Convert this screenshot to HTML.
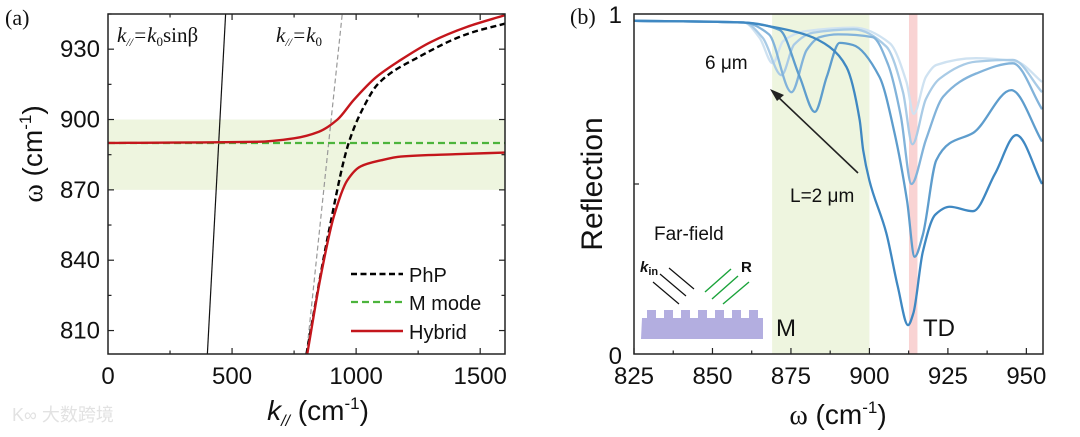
<!DOCTYPE html>
<html><head><meta charset="utf-8">
<style>
html,body{margin:0;padding:0;background:#fff;}
svg{display:block;font-family:"Liberation Sans","Noto Sans CJK SC",sans-serif;}
</style></head>
<body>
<svg id="fig" width="1080" height="437" viewBox="0 0 1080 437">
  <g id="pa"></g>
  <g id="pb"></g>
</svg>
<script>
// ---------- Panel (a) data ----------
const aUpperK = [0, 600, 750, 850, 925, 990, 1080, 1178, 1300, 1447, 1600];
const aUpperW = [890, 890.5, 892, 894.8, 900, 908.3, 918, 925.3, 933, 939.5, 944.5];
const aLowerK = [803, 857, 910, 964, 1018, 1100, 1180, 1400, 1600];
const aLowerW = [800, 833, 858.6, 874, 880, 882.6, 884.2, 885.2, 885.9];
const aPhpK = [800, 815, 889, 970, 1024, 1091, 1253, 1454, 1604];
const aPhpW = [800, 809, 851.7, 890, 904, 915.5, 926.7, 936.7, 941];
const aMmode = 890;
const aBand = [870, 900];
const aLightLineK = [400.5, 474];
const aLightLineW = [800, 945];
const aK0K = [800, 944];
const aK0W = [800, 945];
const aXTicks = [0, 500, 1000, 1500];
const aYTicks = [810, 840, 870, 900, 930];

// ---------- Panel (b) data ----------
const bBand = [869, 900];
const bTD = [912.6, 915.3];
const bXTicks = [825, 850, 875, 900, 925, 950];
const bL2x = [825, 860, 869.2, 880, 887.3, 892.7, 896.9, 898, 900, 905.4, 909, 912.3, 914, 917, 921, 925.6, 933, 940, 946.8, 955];
const bL2y = [0.98, 0.975, 0.962, 0.938, 0.903, 0.844, 0.688, 0.6, 0.51, 0.355, 0.2, 0.085, 0.12, 0.3, 0.41, 0.433, 0.42, 0.53, 0.644, 0.5];
const bL3x = [825, 860, 871.4, 877.8, 882.6, 886.4, 890.5, 894.7, 903.2, 908, 912, 914.4, 917, 921.3, 925.6, 933, 945.2, 955];
const bL3y = [0.98, 0.975, 0.953, 0.815, 0.712, 0.815, 0.915, 0.909, 0.815, 0.65, 0.45, 0.286, 0.35, 0.57, 0.62, 0.65, 0.776, 0.625];
const bL4x = [825, 860, 868, 875.2, 880, 884.2, 890, 901, 906, 910, 913.4, 918, 923.5, 934, 945.7, 955];
const bL4y = [0.98, 0.975, 0.94, 0.77, 0.894, 0.932, 0.94, 0.932, 0.85, 0.7, 0.5, 0.63, 0.757, 0.825, 0.855, 0.72];
const bL5x = [825, 860, 866, 872, 876, 882, 895, 905.4, 910.7, 913.7, 918, 922.4, 934, 945.7, 955];
const bL5y = [0.98, 0.975, 0.93, 0.82, 0.91, 0.945, 0.955, 0.904, 0.77, 0.617, 0.75, 0.81, 0.86, 0.865, 0.77];
const bL6x = [825, 860, 865, 869.2, 872.5, 880, 895, 906.5, 911.8, 914.1, 918, 921.3, 934, 946.8, 955];
const bL6y = [0.98, 0.975, 0.93, 0.855, 0.92, 0.95, 0.96, 0.914, 0.8, 0.706, 0.815, 0.85, 0.87, 0.86, 0.8];

const NS = "http://www.w3.org/2000/svg";
function mk(parent, tag, attrs, text) {
  const e = document.createElementNS(NS, tag);
  for (const k in attrs) e.setAttribute(k, attrs[k]);
  if (text !== undefined) e.textContent = text;
  parent.appendChild(e);
  return e;
}
// monotone cubic (Fritsch-Carlson) in screen coords, x increasing
function smoothPath(pts) {
  const n = pts.length;
  const dx = [], m = [], t = [];
  for (let i = 0; i < n - 1; i++) { dx[i] = pts[i + 1][0] - pts[i][0]; m[i] = (pts[i + 1][1] - pts[i][1]) / dx[i]; }
  t[0] = m[0]; t[n - 1] = m[n - 2];
  for (let i = 1; i < n - 1; i++) {
    if (m[i - 1] * m[i] <= 0) t[i] = 0;
    else { const w1 = 2 * dx[i] + dx[i - 1], w2 = dx[i] + 2 * dx[i - 1]; t[i] = (w1 + w2) / (w1 / m[i - 1] + w2 / m[i]); }
  }
  let d = "M" + pts[0][0].toFixed(2) + "," + pts[0][1].toFixed(2);
  for (let i = 0; i < n - 1; i++) {
    const h = dx[i] / 3;
    d += " C" + (pts[i][0] + h).toFixed(2) + "," + (pts[i][1] + t[i] * h).toFixed(2) + " " +
      (pts[i + 1][0] - h).toFixed(2) + "," + (pts[i + 1][1] - t[i + 1] * h).toFixed(2) + " " +
      pts[i + 1][0].toFixed(2) + "," + pts[i + 1][1].toFixed(2);
  }
  return d;
}

// ===== Panel A =====
(function () {
  const g = document.getElementById('pa');
  const L = 108, R = 505, T = 14, B = 354;
  const xmin = 0, xmax = 1600, ymin = 800, ymax = 945;
  const X = v => L + (v - xmin) / (xmax - xmin) * (R - L);
  const Y = v => B - (v - ymin) / (ymax - ymin) * (B - T);
  const clip = mk(g, 'clipPath', { id: 'clipA' });
  mk(clip, 'rect', { x: L, y: T, width: R - L, height: B - T });
  const band = mk(g, 'rect', { x: L, y: Y(aBand[1]), width: R - L, height: Y(aBand[0]) - Y(aBand[1]), fill: '#eef5df' });
  
  
  const cg = mk(g, 'g', { 'clip-path': 'url(#clipA)' });
  const ll = mk(cg, 'line', { x1: X(aLightLineK[0]), y1: Y(aLightLineW[0]), x2: X(aLightLineK[1]), y2: Y(aLightLineW[1]), stroke: '#111', 'stroke-width': 1.2 });
  
  
  const k0 = mk(cg, 'line', { x1: X(aK0K[0]), y1: Y(aK0W[0]), x2: X(aK0K[1]), y2: Y(aK0W[1]), stroke: '#999', 'stroke-width': 1.2, 'stroke-dasharray': '5,3' });
  
  
  const mm = mk(cg, 'line', { x1: L, y1: Y(aMmode), x2: R, y2: Y(aMmode), stroke: '#4cb43c', 'stroke-width': 2.2, 'stroke-dasharray': '7,4' });
  
  
  const php = mk(cg, 'path', { d: smoothPath(aPhpK.map((k, i) => [X(k), Y(aPhpW[i])])), fill: 'none', stroke: '#000', 'stroke-width': 2.4, 'stroke-dasharray': '6,3.5' });
  
  
  const hu = mk(cg, 'path', { d: smoothPath(aUpperK.map((k, i) => [X(k), Y(aUpperW[i])])), fill: 'none', stroke: '#c4161c', 'stroke-width': 2.4 });
  
  
  const hl = mk(cg, 'path', { d: smoothPath(aLowerK.map((k, i) => [X(k), Y(aLowerW[i])])), fill: 'none', stroke: '#c4161c', 'stroke-width': 2.4 });
  
  
  const frame = mk(g, 'rect', { x: L, y: T, width: R - L, height: B - T, fill: 'none', stroke: '#222', 'stroke-width': 1.5 });
  
  
  for (let v = 250; v < 1600; v += 250) {
    mk(g, 'line', { x1: X(v), y1: B, x2: X(v), y2: B - (v % 500 === 0 ? 6 : 3.5), stroke: '#222', 'stroke-width': 1.2 });
    mk(g, 'line', { x1: X(v), y1: T, x2: X(v), y2: T + (v % 500 === 0 ? 6 : 3.5), stroke: '#222', 'stroke-width': 1.2 });
  }
  aXTicks.forEach(v => {
    const t = mk(g, 'text', { x: X(v), y: 384, 'font-size': 24, 'text-anchor': 'middle', fill: '#111' }, String(v));
    
    
  });
  for (let v = 810; v <= 945; v += 15) {
    const maj = (v - 810) % 30 === 0;
    mk(g, 'line', { x1: L, y1: Y(v), x2: L + (maj ? 6 : 3.5), y2: Y(v), stroke: '#222', 'stroke-width': 1.2 });
    mk(g, 'line', { x1: R, y1: Y(v), x2: R - (maj ? 6 : 3.5), y2: Y(v), stroke: '#222', 'stroke-width': 1.2 });
  }
  aYTicks.forEach(v => {
    const t = mk(g, 'text', { x: 100, y: Y(v) + 8, 'font-size': 24, 'text-anchor': 'end', fill: '#111' }, String(v));
    
    
  });
})();

// ===== Panel B =====
(function () {
  const g = document.getElementById('pb');
  const L = 634, R = 1043, T = 14, B = 354;
  const xmin = 825, xmax = 955.3, ymin = 0, ymax = 1;
  const X = v => L + (v - xmin) / (xmax - xmin) * (R - L);
  const Y = v => B - (v - ymin) / (ymax - ymin) * (B - T);
  const clip = mk(g, 'clipPath', { id: 'clipB' });
  mk(clip, 'rect', { x: L, y: T, width: R - L, height: B - T });
  const band = mk(g, 'rect', { x: X(bBand[0]), y: T, width: X(bBand[1]) - X(bBand[0]), height: B - T, fill: '#eef5df' });
  
  
  const td = mk(g, 'rect', { x: X(bTD[0]), y: T, width: X(bTD[1]) - X(bTD[0]), height: B - T, fill: '#f9d3d3' });
  
  
  const cg = mk(g, 'g', { 'clip-path': 'url(#clipB)' });
  const series = [
    [bL6x, bL6y, '#cfe2f1', 'curve-l6'],
    [bL5x, bL5y, '#a9cbe6', 'curve-l5'],
    [bL4x, bL4y, '#82b3da', 'curve-l4'],
    [bL3x, bL3y, '#5e9dcd', 'curve-l3'],
    [bL2x, bL2y, '#3f88c2', 'curve-l2'],
  ];
  series.forEach(s => {
    const p = mk(cg, 'path', { d: smoothPath(s[0].map((x, i) => [X(x), Y(s[1][i])])), fill: 'none', stroke: s[2], 'stroke-width': 2.3, 'stroke-linejoin': 'round' });
    
    
  });
  const frame = mk(g, 'rect', { x: L, y: T, width: R - L, height: B - T, fill: 'none', stroke: '#222', 'stroke-width': 1.5 });
  
  
  for (let v = 825; v <= 955; v += 12.5) {
    const maj = (v - 825) % 25 === 0;
    mk(g, 'line', { x1: X(v), y1: B, x2: X(v), y2: B - (maj ? 6 : 3.5), stroke: '#222', 'stroke-width': 1.2 });
  }
  bXTicks.forEach(v => {
    const t = mk(g, 'text', { x: X(v), y: 384, 'font-size': 24, 'text-anchor': 'middle', fill: '#111' }, String(v));
    
    
  });
  mk(g, 'line', { x1: L, y1: Y(0.5), x2: L + 5, y2: Y(0.5), stroke: '#222', 'stroke-width': 1.2 });
})();
</script>

<svg style="position:absolute;left:0;top:0" width="1080" height="437" viewBox="0 0 1080 437">
  <g font-family="Liberation Serif, serif" fill="#111">
    <text x="5" y="25" font-size="22">(a)</text>
    <text x="117" y="42" font-size="21" font-style="italic">k<tspan font-size="12" dy="4">//</tspan><tspan dy="-4">=k</tspan><tspan font-size="13" dy="4" font-style="normal">0</tspan><tspan dy="-4" font-style="normal">sinβ</tspan></text>
    <text x="276" y="42" font-size="21" font-style="italic">k<tspan font-size="12" dy="4">//</tspan><tspan dy="-4">=k</tspan><tspan font-size="13" dy="4" font-style="normal">0</tspan></text>
    <text x="570" y="24" font-size="22">(b)</text>
  </g>
  <g fill="#111" font-family="Liberation Sans, sans-serif">
    <text transform="translate(42,154) rotate(-90)" font-size="28" text-anchor="middle"><tspan font-family="Liberation Serif, serif">ω</tspan> (cm<tspan font-size="17" dy="-11">-1</tspan><tspan dy="11">)</tspan></text>
    <text x="318" y="420" font-size="28" text-anchor="middle"><tspan font-style="italic">k</tspan><tspan font-size="16" dy="6" font-style="italic">//</tspan><tspan dy="-6"> (cm</tspan><tspan font-size="17" dy="-11">-1</tspan><tspan dy="11">)</tspan></text>
    <g>
      <line x1="351" y1="274" x2="403" y2="274" stroke="#000" stroke-width="2.4" stroke-dasharray="6,3.5"/>
      <text x="409" y="282" font-size="20">PhP</text>
      <line x1="351" y1="302" x2="403" y2="302" stroke="#4cb43c" stroke-width="2.2" stroke-dasharray="7,4"/>
      <text x="409" y="310" font-size="20">M mode</text>
      <line x1="351" y1="331" x2="403" y2="331" stroke="#c4161c" stroke-width="2.4"/>
      <text x="409" y="339" font-size="20">Hybrid</text>
    </g>
    <text x="622" y="23" font-size="24" text-anchor="end">1</text>
    <text x="622" y="364" font-size="24" text-anchor="end">0</text>
    <text transform="translate(602,184) rotate(-90)" font-size="30" text-anchor="middle">Reflection</text>
    <text x="838" y="424" font-size="28" text-anchor="middle"><tspan font-family="Liberation Serif, serif">ω</tspan> (cm<tspan font-size="17" dy="-11">-1</tspan><tspan dy="11">)</tspan></text>
    <text x="705" y="69" font-size="19">6 μm</text>
    <text x="790" y="202" font-size="19">L=2 μm</text>
    <line x1="858" y1="173" x2="776" y2="95" stroke="#222" stroke-width="1.6"/>
    <polygon points="770,89 784,95 777,101" fill="#222"/>
    <text x="654" y="240" font-size="19">Far-field</text>
    <text x="640" y="272" font-size="15" font-weight="bold" font-style="italic">k<tspan font-size="11" dy="3" font-style="normal">in</tspan></text>
    <text x="741" y="272" font-size="15" font-weight="bold">R</text>
    <g stroke="#111" stroke-width="1.2">
      <line x1="653" y1="282" x2="679" y2="304"/><line x1="660" y1="274" x2="686" y2="296"/><line x1="669" y1="268" x2="694" y2="289"/>
    </g>
    <g stroke="#1aa33a" stroke-width="1.4">
      <line x1="705" y1="292" x2="731" y2="269"/><line x1="712" y1="299" x2="738" y2="276"/><line x1="723" y1="304" x2="749" y2="282"/>
    </g>
    <path d="M642,318 h5 v-8 h9 v8 h8 v-8 h9 v8 h8 v-8 h9 v8 h8 v-8 h9 v8 h8 v-8 h9 v8 h8 v-8 h9 v8 h8 v-8 h9 v8 h5 v21 h-122 z" fill="#b3aee0"/>
    <text x="776" y="336" font-size="24">M</text>
    <text x="923" y="336" font-size="24">TD</text>
    <text x="12" y="421" font-size="18" fill="#e2e2e2" font-family="Liberation Sans, Noto Sans CJK SC, sans-serif">K∞ 大数跨境</text>
  </g>
</svg>
</body></html>
